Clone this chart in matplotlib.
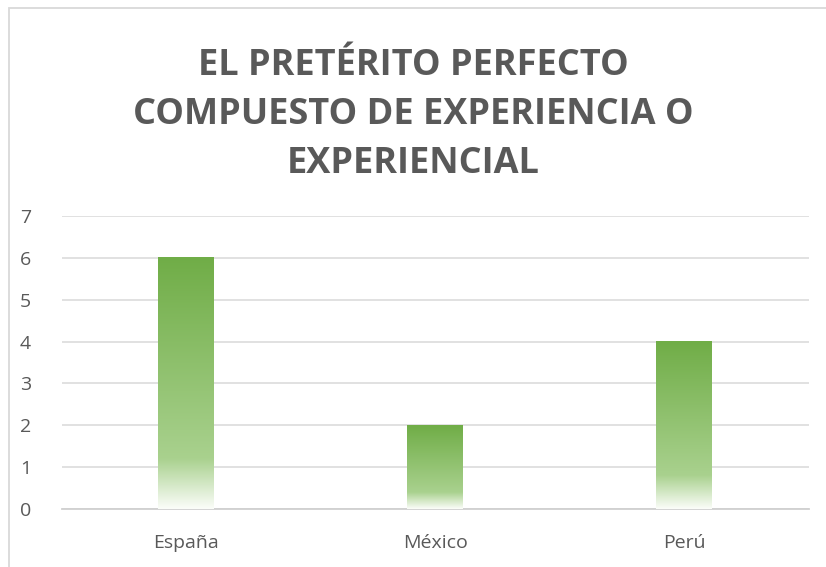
import matplotlib.pyplot as plt
import numpy as np
from matplotlib.colors import LinearSegmentedColormap
from matplotlib.patches import Rectangle

plt.rcParams['font.family'] = ['Open Sans', 'DejaVu Sans']

paises = ["España", "México", "Perú"]
valores = [6, 2, 4]
titulo = "EL PRETÉRITO PERFECTO\nCOMPUESTO DE EXPERIENCIA O\nEXPERIENCIAL"

gris = "#595959"
# gradiente de la barra: arriba verde oscuro, abajo casi blanco
grad = LinearSegmentedColormap.from_list(
    "verde", [(0.0, "#fbfdf9"), (0.2, "#a9d18e"), (1.0, "#70ad47")])

fig = plt.figure(figsize=(8.26, 5.67), dpi=100)
ax = fig.add_axes([0.0745, 0.1023, 0.9045, 0.5167])

x = np.arange(len(paises))
bars = ax.bar(x, valores, width=0.224, color="none", zorder=3)
img = np.linspace(0, 1, 256).reshape(-1, 1)
for b in bars:
    ax.imshow(img, cmap=grad, origin="lower", aspect="auto", zorder=3,
              extent=[b.get_x(), b.get_x() + b.get_width(), 0, b.get_height()])

ax.set_xlim(-0.5, len(paises) - 0.5)
ax.set_ylim(0, 7)
ax.set_yticks(range(8))
ax.set_xticks(x)
ax.set_xticklabels(paises)
ax.grid(axis="y", color="#d9d9d9", linewidth=1.1, zorder=0)
for s in ["top", "right", "left"]:
    ax.spines[s].set_visible(False)
ax.spines["bottom"].set_color("#d0d0d0")
ax.spines["bottom"].set_linewidth(1.3)
ax.tick_params(axis="both", length=0, labelsize=14, labelcolor=gris)
ax.tick_params(axis="y", pad=22)
ax.tick_params(axis="x", pad=18)

fig.text(0.5, 1 - 115 / 567, titulo, ha="center", va="center", fontsize=26,
         fontweight="bold", color=gris, linespacing=1.47)

# borde del gráfico
fig.patches.append(Rectangle((9 / 826, -0.1), 1.1, 1 - 7.5 / 567 + 0.1,
                             transform=fig.transFigure, fill=False,
                             edgecolor="#d9d9d9", linewidth=1.3))

fig.savefig("out.png", dpi=100)
